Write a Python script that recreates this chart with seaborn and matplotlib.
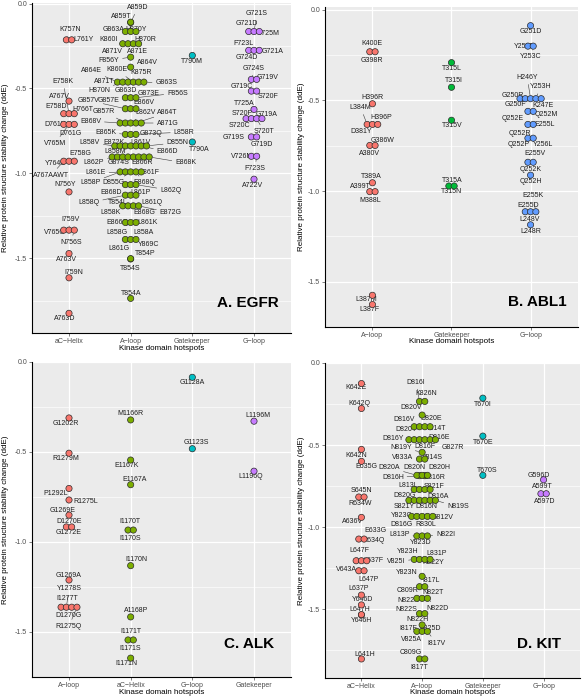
import numpy as np
import pandas as pd
import matplotlib
matplotlib.use("Agg")
import matplotlib.pyplot as plt
import seaborn as sns

# ggplot default hues
hue4 = ["#F8766D", "#7CAE00", "#00BFC4", "#C77CFF"]
hue3 = ["#F8766D", "#00BA38", "#619CFF"]

# ---------------- A. EGFR ----------------
egfr_sites = ["aC\u2212Helix", "A\u2212loop", "Gatekeeper", "G\u2212loop"]

egfr_helix_mut = ["K757N", "L761Y", "A767V", "E758K", "E758D", "H766T",
                  "D761Y", "D761G", "V765M", "E758G", "Y764C", "A767AAWT",
                  "N756Y", "I759V", "V765G", "N756S", "A763V", "I759N", "A763D"]
egfr_helix_dde = [-0.214, -0.214, -0.575, -0.649, -0.649, -0.649,
                  -0.712, -0.712, -0.712, -0.929, -0.929, -0.929,
                  -1.110, -1.335, -1.335, -1.335, -1.473, -1.616, -1.825]

egfr_aloop_mut = ["A859T", "A859D",
                  "G863A", "H870Y", "",
                  "K860I", "H870R", "A871V", "A871E",
                  "F856Y", "A864V",
                  "A864E", "K860E", "K875R", "A871T", "G863S", "H870N",
                  "G863D", "G873E", "F856S",
                  "G857V", "G857E", "E866V",
                  "G857R", "L862V", "A864T", "E868V", "A871G",
                  "E865K", "G873Q", "L858R",
                  "L858V", "E872K", "L861V", "D855N", "L858M", "E866D", "",
                  "L862P", "G874S", "E866R", "E868K", "", "", "", "",
                  "L861E", "L861F", "L858P", "D855G", "E868Q",
                  "L862Q", "E868D", "L861P",
                  "L858Q", "T854L", "L861Q",
                  "E872G", "L858K", "E868G", "",
                  "E866G", "L861K", "L858G",
                  "L858A", "Y869C", "L861G",
                  "T854S", "T854P", "T854A"]
egfr_aloop_dde = [-0.110, -0.112,
                  -0.165, -0.165, -0.165,
                  -0.237, -0.237, -0.237, -0.237,
                  -0.316, -0.375,
                  -0.463, -0.463, -0.463, -0.463, -0.463, -0.463,
                  -0.555, -0.555, -0.555,
                  -0.620, -0.620, -0.620,
                  -0.704, -0.704, -0.704, -0.704, -0.704,
                  -0.771, -0.771, -0.771,
                  -0.839, -0.839, -0.839, -0.839, -0.839, -0.839, -0.839,
                  -0.904, -0.904, -0.904, -0.904, -0.904, -0.904, -0.904, -0.904,
                  -0.992, -0.992, -0.992, -0.992, -0.992,
                  -1.067, -1.067, -1.067,
                  -1.129, -1.129, -1.129,
                  -1.192, -1.192, -1.192, -1.192,
                  -1.290, -1.290, -1.290,
                  -1.390, -1.390, -1.390,
                  -1.505, -1.503, -1.737]

egfr_gate_mut = ["T790M", "T790A"]
egfr_gate_dde = [-0.306, -0.816]

egfr_gloop_mut = ["G721S", "G721D", "T725M", "F723L", "G721A", "G724D",
                  "G724S", "G719V", "G719C", "S720F", "T725A",
                  "S720P", "G719A", "S720C", "S720T", "G719S", "G719D",
                  "V726M", "F723S", "A722V"]
egfr_gloop_dde = [-0.165, -0.165, -0.165, -0.276, -0.276, -0.276,
                  -0.447, -0.447, -0.516, -0.516, -0.624,
                  -0.678, -0.678, -0.678, -0.678, -0.786, -0.786,
                  -0.900, -0.900, -1.035]

# ---------------- B. ABL1 ----------------
abl_sites = ["A\u2212loop", "Gatekeeper", "G\u2212loop"]

abl_aloop_mut = ["K400E", "G398R", "H396R", "L384M", "H396P", "D381Y",
                 "G386W", "A380V", "T389A", "A399T", "M388L", "L387M", "L387F"]
abl_aloop_dde = [-0.231, -0.231, -0.518, -0.632, -0.632, -0.632,
                 -0.748, -0.748, -0.954, -1.003, -1.003, -1.575, -1.626]

abl_gate_mut = ["T315L", "T315I", "T315V", "T315A", "T315N"]
abl_gate_dde = [-0.291, -0.427, -0.609, -0.972, -0.972]

abl_gloop_mut = ["G251D", "Y253F", "Y253C", "H246Y", "Y253H", "G250R",
                 "G250F", "K247E", "Q252E", "Q252M", "E255L", "Q252R",
                 "Q252P", "Y256L", "E255V", "Q252K", "Q252H",
                 "E255K", "E255D", "L248V", "L248R"]
abl_gloop_dde = [-0.087, -0.200, -0.200, -0.490, -0.490, -0.490,
                 -0.490, -0.490, -0.560, -0.560, -0.632, -0.632,
                 -0.708, -0.708, -0.841, -0.841, -0.912,
                 -1.114, -1.114, -1.114, -1.186]

# ---------------- C. ALK ----------------
alk_sites = ["A\u2212loop", "aC\u2212Helix", "G\u2212loop", "Gatekeeper"]

alk_aloop_mut = ["G1202R", "R1279M", "P1292L", "R1275L", "G1269E",
                 "D1270E", "G1272E", "G1269A",
                 "Y1278S", "I1277T", "D1270G", "R1275Q"]
alk_aloop_dde = [-0.311, -0.507, -0.703, -0.767, -0.851,
                 -0.917, -0.917, -1.212,
                 -1.363, -1.363, -1.363, -1.363]

alk_helix_mut = ["M1166R", "E1167K", "E1167A", "I1170T", "I1170S",
                 "I1170N", "A1168P", "I1171T", "I1171S", "I1171N"]
alk_helix_dde = [-0.322, -0.545, -0.682, -0.934, -0.934,
                 -1.132, -1.417, -1.545, -1.545, -1.646]

alk_gloop_mut = ["G1128A", "G1123S"]
alk_gloop_dde = [-0.085, -0.482]

alk_gate_mut = ["L1196M", "L1196Q"]
alk_gate_dde = [-0.329, -0.607]

# ---------------- D. KIT ----------------
kit_sites = ["aC\u2212Helix", "A\u2212loop", "Gatekeeper", "G\u2212loop"]

kit_helix_mut = ["K642E", "K642Q", "K642N", "E635G", "S645N", "R634W",
                 "A636V", "E633G", "R634Q", "L647F", "L637F", "",
                 "V643A", "L647P", "L637P", "Y646D", "L647H", "Y646H", "L641H"]
kit_helix_dde = [-0.125, -0.277, -0.526, -0.599, -0.816, -0.816,
                 -0.940, -1.072, -1.072, -1.204, -1.204, -1.204,
                 -1.265, -1.265, -1.413, -1.473, -1.532, -1.534, -1.802]

kit_aloop_mut = ["D816I", "K826N", "D820V",
                 "D816V", "D820E", "D820Y", "Y814T",
                 "D816Y", "D816E", "D816F", "G827R", "", "",
                 "N819Y", "V833A", "Y814S",
                 "D820A", "D820N", "D820H", "D816H", "D816R",
                 "L813L", "S821F", "", "",
                 "D820G", "D816A", "S821Y", "D816N", "N819S", "",
                 "Y823C", "G812V", "D816G", "R830L", "",
                 "L813P", "N822I", "Y823D",
                 "Y823H", "L831P", "V825I", "N822Y",
                 "Y823N", "I817L", "C809R",
                 "N822T", "N822K", "N822D",
                 "N822S", "N822H", "I817F",
                 "V825D", "V825A", "I817V",
                 "C809G", "I817T"]
kit_aloop_dde = [-0.234, -0.234, -0.317,
                 -0.388, -0.388, -0.388, -0.388,
                 -0.467, -0.467, -0.467, -0.467, -0.467, -0.467,
                 -0.544, -0.585, -0.585,
                 -0.684, -0.684, -0.684, -0.686, -0.686,
                 -0.770, -0.770, -0.770, -0.770,
                 -0.836, -0.836, -0.836, -0.836, -0.836, -0.836,
                 -0.934, -0.934, -0.934, -0.934, -0.934,
                 -1.053, -1.053, -1.053,
                 -1.196, -1.196, -1.196, -1.196,
                 -1.299, -1.362, -1.362,
                 -1.433, -1.433, -1.433,
                 -1.526, -1.526, -1.595,
                 -1.634, -1.634, -1.634,
                 -1.802, -1.802]

kit_gate_mut = ["T670I", "T670E", "T670S"]
kit_gate_dde = [-0.214, -0.445, -0.684]

kit_gloop_mut = ["G596D", "A599T", "A597D"]
kit_gloop_dde = [-0.711, -0.796, -0.796]

# label placement (pixel offset of label centre from the row centre, y up)
egfr_label_pos = {
    "K757N": (0.7, 10), "L761Y": (14, 0), "A767V": (-10, 5), "E758K": (-6, 32),
    "E758D": (-13, 7), "H766T": (14, 4), "D761Y": (-14, 0), "D761G": (1, -9),
    "V765M": (-14, -19), "E758G": (11, 8), "Y764C": (-14, -2),
    "A767AAWT": (-18, -14), "N756Y": (-4, 7), "I759V": (1, 11), "V765G": (-14, -2),
    "N756S": (2, -12), "A763V": (-3, -6), "I759N": (5, 5), "A763D": (-4, -5),
    "T790M": (0, -6), "T790A": (7, -7),
    "G721S": (3, 18), "G721D": (-7, 8), "T725M": (15, -2), "F723L": (-11, 7),
    "G721A": (19, -1), "G724D": (-7, -7), "G724S": (0, 11), "G719V": (14, 2),
    "G719C": (-12, 5), "S720F": (14, -5), "T725A": (-10, 6), "S720P": (-12, 5),
    "G719A": (13, 4), "S720C": (-15, -7), "S720T": (10, -13), "G719S": (-20, -1),
    "G719D": (8, -8), "V726M": (-12, 0), "F723S": (1, -12), "A722V": (-1, -6),
    "A859T": (-9.3, 5.7), "A859D": (7.3, 15), "G863A": (-16.7, 2), "H870Y": (5, 2),
    "K860I": (-21.7, 4), "H870R": (15, 4), "A871V": (-18.3, -7.7), "A871E": (6.7, -7.7),
    "F856Y": (-21.7, -3.3), "A864V": (16.7, 5),
    "A864E": (-39.3, 11.7), "K860E": (-14, 12.3), "K875R": (10.7, 10),
    "A871T": (-26.7, 0.7), "G863S": (35.7, -0.7), "H870N": (-31.7, -8.3),
    "G863D": (-5, 7.3), "G873E": (18.3, 4.7), "F856S": (46.7, 4.7),
    "G857V": (-41.7, 8.3), "G857E": (-21.7, 8.3), "E866V": (13.3, 6.7),
    "G857R": (-26.7, 11.7), "L862V": (15, 10.3), "A864T": (36.7, 10.3),
    "E868V": (-40, 2), "A871G": (36.7, 0),
    "E865K": (-25, 2.3), "G873Q": (20, 1.3), "L858R": (53.3, 2.3),
    "L858V": (-40.7, 3.3), "E872K": (-16.7, 3.3), "L861V": (10, 3.3),
    "D855N": (46.7, 3.3), "L858M": (-15, -6), "E866D": (36.7, -6),
    "L862P": (-36.7, -6), "G874S": (-11.7, -6), "E866R": (11.7, -6), "E868K": (55, -6),
    "L861E": (-35, -1), "L861F": (18.3, -1), "L858P": (-40, -11),
    "D855G": (-16.7, -11), "E868Q": (13.3, -11),
    "L862Q": (40, -5.7), "E868D": (-20, -8.3), "L861P": (10, -8.3),
    "L858Q": (-41.7, -7.7), "T854L": (-13.3, -7), "L861Q": (21.7, -7.7),
    "E872G": (40, -7), "L858K": (-20, -7), "E868G": (13.3, -7),
    "E866G": (-13.3, -0.3), "L861K": (16.7, -0.3), "L858G": (-13.3, -10),
    "L858A": (13.3, 6.7), "Y869C": (18.3, -4.7), "L861G": (-11.7, -9),
    "T854S": (0, -9.3), "T854P": (15, 4.7), "T854A": (0, 5),
}

abl_label_pos = {
    "K400E": (-0.7, 8), "G398R": (-0.7, -8.7), "H396R": (0, 6.3), "L384M": (-11.7, 16.7),
    "H396P": (9.3, 6.7), "D381Y": (-11.7, -6.7), "G386W": (10, 4.7), "A380V": (-2.7, -7.7),
    "T389A": (-0.7, 6.7), "A399T": (-12.3, 4.7), "M388L": (-2.3, -9.3),
    "L387M": (-6, -4.3), "L387F": (-3.3, -5),
    "T315L": (0.3, -6), "T315I": (2.3, 6.7), "T315V": (0.3, -5), "T315A": (0.3, 5.7),
    "T315N": (0.3, -5.7),
    "G251D": (0, -5.7), "Y253F": (-6.3, -0.7), "Y253C": (0, -10.7), "H246Y": (-3.3, 21),
    "Y253H": (10, 11.7), "G250R": (-18, 3.3), "G250F": (-15, -6), "K247E": (12, -6.7),
    "Q252E": (-18, -7.3), "Q252M": (15.3, -3.3), "E255L": (14.3, 0), "Q252R": (-10.7, -9),
    "Q252P": (-12.3, -6), "Y256L": (12.7, -6), "E255V": (4.3, 8.3), "Q252K": (0, -7.3),
    "Q252H": (0, -6), "E255K": (2, 16), "E255D": (-2.3, 6), "L248V": (-1.3, -7.3),
    "L248R": (0, -6.3),
}

alk_label_pos = {
    "G1202R": (-3.3, -6), "R1279M": (-3.3, -5.3), "P1292L": (-13.3, -5.3),
    "R1275L": (16.7, -1.3), "G1269E": (-6.7, 4.3), "D1270E": (0, 5), "G1272E": (0, -6),
    "G1269A": (0, 4.3), "Y1278S": (0, 18.3), "I1277T": (-1.7, 8.3), "D1270G": (0, -8.3),
    "R1275Q": (0, -19),
    "M1166R": (0, 6), "E1167K": (-4, -5.7), "E1167A": (4.3, 5), "I1170T": (-0.7, 8.3),
    "I1170S": (-0.7, -8.7), "I1170N": (6, 6), "A1168P": (5.3, 6), "I1171T": (0, 8.3),
    "I1171S": (0, -9), "I1171N": (-4, -5.3),
    "G1128A": (0, -5), "G1123S": (4, 6), "L1196M": (4.3, 5.7), "L1196Q": (-3.3, -5.7),
}

kit_label_pos = {
    "K642E": (-5, -4.3), "K642Q": (-1.7, 4.7), "K642N": (-5, -5.7), "E635G": (5, -5),
    "S645N": (0, 6.7), "R634W": (-1.7, -6.7), "A636V": (-9, -4), "E633G": (14.3, 8.3),
    "R634Q": (11.7, -1), "L647F": (-1.7, 10), "L637F": (11.7, 0), "V643A": (-15, 1),
    "L647P": (6.7, -8.3), "L637P": (-3.3, 7), "Y646D": (1, 5.3), "L647H": (-1.7, 5.3),
    "Y646H": (0, -5.7), "L641H": (3.3, 4.3),
    "T670I": (0, -6.7), "T670E": (0.7, -6), "T670S": (4, 5.3),
    "G596D": (-4.3, 4.7), "A599T": (-1, 7.3), "A597D": (0.7, -7.7),
    "D816I": (-6, 19), "K826N": (4, 7.7), "D820V": (-11, 7.3), "D816V": (-17.7, 7.7),
    "D820E": (9, 8.3), "D820Y": (-16, -2.3), "Y814T": (14, -1.3), "D816Y": (-29.3, 1),
    "D816E": (16.7, 2), "D816F": (2.3, -7.3), "G827R": (30.7, -8), "N819Y": (-21, 5),
    "V833A": (-19.3, 2), "Y814S": (10.7, 2), "D820A": (-32.7, 7.7), "D820N": (-7.7, 7.7),
    "D820H": (17.3, 7.7), "D816H": (-29.3, -2.3), "D816R": (12.3, -2.3),
    "L813L": (-14.3, 4), "S821F": (12.3, 3), "D820G": (-17.7, 4.3), "D816A": (15.7, 3.3),
    "S821Y": (-17.7, -6.7), "D816N": (4, -6.7), "N819S": (35.7, -6.7), "Y823C": (-21, 1),
    "G812V": (20.7, -1), "D816G": (-21, -8.3), "R830L": (4, -7.7), "L813P": (-22.7, 1.7),
    "N822I": (23.3, 1.7), "Y823D": (-1, -6.7), "Y823H": (-14.3, 8.3), "L831P": (14, 6),
    "V825I": (-26, -2.3), "N822Y": (10.7, -3.3), "Y823N": (-15.3, 4), "I817L": (9, 5.7),
    "C809R": (-14.3, -3.7), "N822T": (10.7, 6), "N822K": (-14.3, -2.3),
    "N822D": (15.7, -10), "N822S": (-16, 4), "N822H": (-4.3, -5.7), "I817F": (-14.3, -4),
    "V825D": (9, 2.7), "V825A": (-11, -8.3), "I817V": (14, -11.7), "C809G": (-11, 6.7),
    "I817T": (-2.7, -8.3),
}

sns.set_theme(style="darkgrid", rc={"axes.facecolor": "#EBEBEB",
                                     "grid.color": "white"})
plt.rcParams["font.family"] = ["Liberation Sans", "DejaVu Sans"]

W, H = 583, 700
DOT_GAP = 5.3
fig = plt.figure(figsize=(W / 100, H / 100), dpi=100)


def make_ax(l, r, t, b):
    return fig.add_axes([l / W, 1 - b / H, (r - l) / W, (b - t) / H])


def draw_panel(ax, sites, palette, blocks, label_pos, ylim, tag, tag_xy,
               ylab_px, xlab_px, box):
    l, r, t, b = box
    frames = [pd.DataFrame({"site": s, "mut": m, "dde": v}) for s, m, v in blocks]
    df = pd.concat(frames, ignore_index=True)
    df["code"] = df["site"].map({s: i for i, s in enumerate(sites)})
    xlim = (-0.6, len(sites) - 0.4)
    px_per_x = (r - l) / (xlim[1] - xlim[0])

    # equal values sit side by side, centred on the hotspot
    df["lab_dx"] = [label_pos.get(m, (0, 0))[0] for m in df["mut"]]
    df = df.sort_values(["code", "dde", "lab_dx"]).reset_index(drop=True)
    grp = df.groupby(["code", "dde"])
    df["slot"] = grp.cumcount()
    df["n"] = grp["mut"].transform("size")
    df["dot_px"] = (df["slot"] - (df["n"] - 1) / 2) * DOT_GAP
    df["x"] = df["code"] + df["dot_px"] / px_per_x

    sns.scatterplot(data=df, x="x", y="dde", hue="site", hue_order=sites,
                    palette=palette, s=20, edgecolor="#2a2a2a", linewidth=0.5,
                    legend=False, ax=ax, zorder=3)

    for row in df.itertuples():
        if row.mut not in label_pos:
            continue
        dx, dy = label_pos[row.mut]
        ox = dx - row.dot_px
        hw = len(row.mut) * 2.1 + 1
        gap = max(abs(ox) - hw, abs(dy) - 3.5)
        props = None
        if gap > 5:
            props = dict(arrowstyle="-", color="#3a3a3a", lw=0.4,
                         shrinkA=0, shrinkB=2.6)
        ax.annotate(row.mut, xy=(row.x, row.dde), xytext=(ox, dy),
                    textcoords="offset pixels", ha="center", va="center",
                    fontsize=5, color="#1e1e1e", zorder=2, arrowprops=props)

    ax.set_xlim(xlim)
    ax.set_ylim(ylim)
    ax.set_xticks(range(len(sites)))
    ax.set_xticklabels(sites)
    ax.set_yticks([0, -0.5, -1.0, -1.5])
    ax.set_yticklabels(["0.0", "-0.5", "-1.0", "-1.5"])
    ax.set_yticks([-0.25, -0.75, -1.25, -1.75], minor=True)
    ax.grid(which="major", color="white", lw=0.9)
    ax.grid(which="minor", axis="y", color="white", lw=0.45)
    ax.set_axisbelow(True)
    ax.tick_params(axis="both", which="major", labelsize=5, colors="#4d4d4d",
                   length=2, width=0.5, pad=1.5, bottom=True, left=True)
    ax.tick_params(which="minor", length=0)
    for side in ["top", "right"]:
        ax.spines[side].set_visible(False)
    for side in ["left", "bottom"]:
        ax.spines[side].set_visible(True)
        ax.spines[side].set_color("black")
        ax.spines[side].set_linewidth(0.8)

    ax.set_xlabel("Kinase domain hotspots", fontsize=5.8, color="black")
    ax.set_ylabel("Relative protein structure stability change (ddE)",
                  fontsize=5.8, color="black")
    ax.xaxis.set_label_coords(0.5, (b - xlab_px) / (b - t))
    ax.xaxis.label.set_va("center")
    ax.yaxis.set_label_coords((ylab_px - l) / (r - l), 0.5)
    ax.yaxis.label.set_va("center")

    ax.text((tag_xy[0] - l) / (r - l), (b - tag_xy[1]) / (b - t), tag,
            transform=ax.transAxes, ha="center", va="center",
            fontsize=11, fontweight="bold", color="black")


box_a = (32, 291, 3, 333)
box_b = (325, 578, 7, 327)
box_c = (32, 291, 362, 677)
box_d = (325, 580, 363, 678)

draw_panel(make_ax(*box_a), egfr_sites, hue4,
           [(egfr_sites[0], egfr_helix_mut, egfr_helix_dde),
            (egfr_sites[1], egfr_aloop_mut, egfr_aloop_dde),
            (egfr_sites[2], egfr_gate_mut, egfr_gate_dde),
            (egfr_sites[3], egfr_gloop_mut, egfr_gloop_dde)],
           egfr_label_pos, (-1.941, 0.003), "A. EGFR", (248, 303), 5.5, 348, box_a)

draw_panel(make_ax(*box_b), abl_sites, hue3,
           [(abl_sites[0], abl_aloop_mut, abl_aloop_dde),
            (abl_sites[1], abl_gate_mut, abl_gate_dde),
            (abl_sites[2], abl_gloop_mut, abl_gloop_dde)],
           abl_label_pos, (-1.728, 0.016), "B. ABL1", (537, 302), 302, 342, box_b)

draw_panel(make_ax(*box_c), alk_sites, hue4,
           [(alk_sites[0], alk_aloop_mut, alk_aloop_dde),
            (alk_sites[1], alk_helix_mut, alk_helix_dde),
            (alk_sites[2], alk_gloop_mut, alk_gloop_dde),
            (alk_sites[3], alk_gate_mut, alk_gate_dde)],
           alk_label_pos, (-1.751, -0.062), "C. ALK", (249, 644), 5.5, 693, box_c)

draw_panel(make_ax(*box_d), kit_sites, hue4,
           [(kit_sites[0], kit_helix_mut, kit_helix_dde),
            (kit_sites[1], kit_aloop_mut, kit_aloop_dde),
            (kit_sites[2], kit_gate_mut, kit_gate_dde),
            (kit_sites[3], kit_gloop_mut, kit_gloop_dde)],
           kit_label_pos, (-1.918, -0.054), "D. KIT", (539, 644), 302, 693, box_d)

fig.savefig("out.png", dpi=100)
